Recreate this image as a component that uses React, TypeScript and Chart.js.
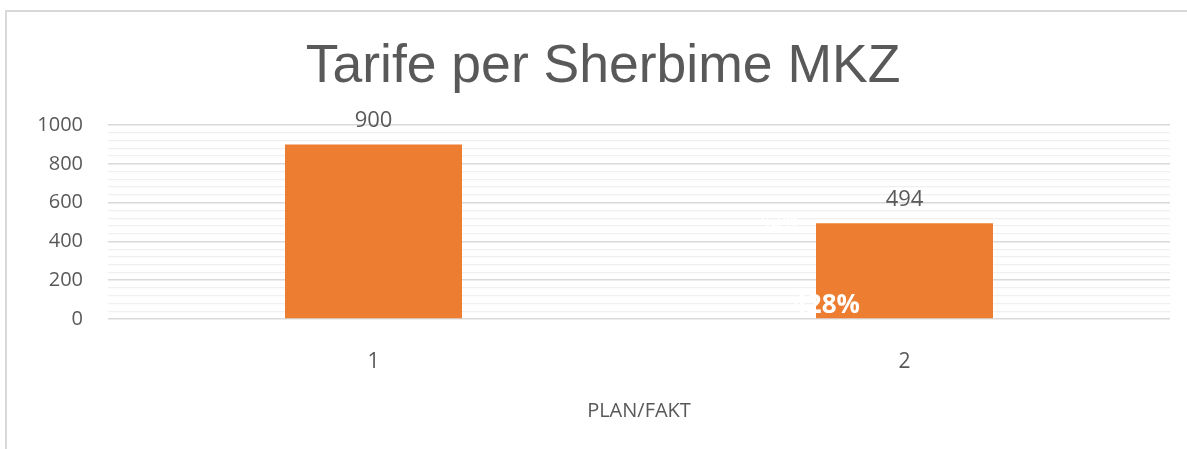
import React, { useEffect, useRef } from "react";
import { Chart, registerables } from "chart.js";

Chart.register(...registerables);

const categories = ["1", "2"];
const values = [900, 494];
const hiddenTopLabels = ["", "42%"];
const hiddenBaseLabels = ["", "428%"];
const yMax = 1000;
const majorStep = 200;
const minorStep = 40;
const titleText = "Tarife per Sherbime MKZ";
const xTitle = "PLAN/FAKT";

const W = 1187;
const H = 449;
const TEXT = "#595959";
const FONT = "'Open Sans', 'Noto Sans', sans-serif";

export default function App() {
  const ref = useRef<HTMLCanvasElement | null>(null);

  useEffect(() => {
    const canvas = ref.current;
    if (!canvas) return;

    const framePlugin = {
      id: "frame",
      beforeDraw(chart: any) {
        const ctx = chart.ctx;
        ctx.save();
        ctx.fillStyle = "#ffffff";
        ctx.fillRect(0, 0, chart.width, chart.height);
        ctx.strokeStyle = "#d9d9d9";
        ctx.lineWidth = 2;
        ctx.beginPath();
        ctx.moveTo(6, chart.height);
        ctx.lineTo(6, 11);
        ctx.lineTo(chart.width, 11);
        ctx.stroke();
        ctx.fillStyle = TEXT;
        ctx.font = "53.5px 'Liberation Sans', Arial, sans-serif";
        ctx.textAlign = "center";
        ctx.textBaseline = "alphabetic";
        ctx.fillText(titleText, 603, 82);
        ctx.restore();
      },
    };

    const labelPlugin = {
      id: "labels",
      afterDatasetsDraw(chart: any) {
        const ctx = chart.ctx;
        const meta = chart.getDatasetMeta(0);
        ctx.save();
        meta.data.forEach((bar: any, i: number) => {
          ctx.fillStyle = TEXT;
          ctx.font = `22px ${FONT}`;
          ctx.textAlign = "center";
          ctx.textBaseline = "alphabetic";
          ctx.fillText(String(values[i]), bar.x, bar.y - 17);
          const left = bar.x - bar.width / 2;
          if (hiddenTopLabels[i]) {
            ctx.fillStyle = "#ffffff";
            ctx.font = `20px ${FONT}`;
            ctx.textAlign = "center";
            ctx.fillText(hiddenTopLabels[i], left - 37, bar.y + 4);
          }
          if (hiddenBaseLabels[i]) {
            ctx.fillStyle = "#ffffff";
            ctx.font = `bold 26px ${FONT}`;
            ctx.textAlign = "center";
            ctx.fillText(hiddenBaseLabels[i], left + 10, bar.base - 5);
          }
        });
        ctx.restore();
      },
    };

    const chart = new Chart(canvas, {
      type: "bar",
      data: {
        labels: categories,
        datasets: [
          {
            data: values,
            backgroundColor: "#ed7d31",
            borderWidth: 0,
            categoryPercentage: 1,
            barPercentage: 1 / 3,
          },
        ],
      },
      options: {
        responsive: false,
        animation: false,
        layout: { padding: { top: 125, left: 0, right: 17, bottom: 0 } },
        plugins: {
          legend: { display: false },
          tooltip: { enabled: false },
          title: { display: false },
        },
        scales: {
          x: {
            grid: { display: false, drawTicks: false },
            border: { display: false },
            ticks: { color: TEXT, font: { family: FONT, size: 21 }, padding: 30 },
            title: {
              display: true,
              text: xTitle,
              color: TEXT,
              font: { family: FONT, size: 20, lineHeight: 1.2 },
              padding: { top: 0, bottom: 26 },
            },
            afterFit(scale: any) {
              scale.height = 130;
            },
          },
          y: {
            min: 0,
            max: yMax,
            grid: {
              drawTicks: false,
              color: (c: any) => (c.tick && c.tick.value % majorStep === 0 ? "#d9d9d9" : "#f0f0f0"),
              lineWidth: (c: any) => (c.tick && c.tick.value % majorStep === 0 ? 1.5 : 1.2),
            },
            border: { display: false },
            ticks: {
              stepSize: minorStep,
              autoSkip: false,
              padding: 25,
              color: TEXT,
              font: { family: FONT, size: 20 },
              callback: (v: any) => (Number(v) % majorStep === 0 ? String(v) : ""),
            },
            afterFit(scale: any) {
              scale.width = 108;
            },
          },
        },
      },
      plugins: [framePlugin, labelPlugin],
    });

    return () => chart.destroy();
  }, []);

  return (
    <div style={{ position: "fixed", left: 0, top: 0, width: W, height: H, background: "#fff" }}>
      <canvas ref={ref} width={W} height={H} style={{ display: "block", width: W, height: H }} />
    </div>
  );
}
